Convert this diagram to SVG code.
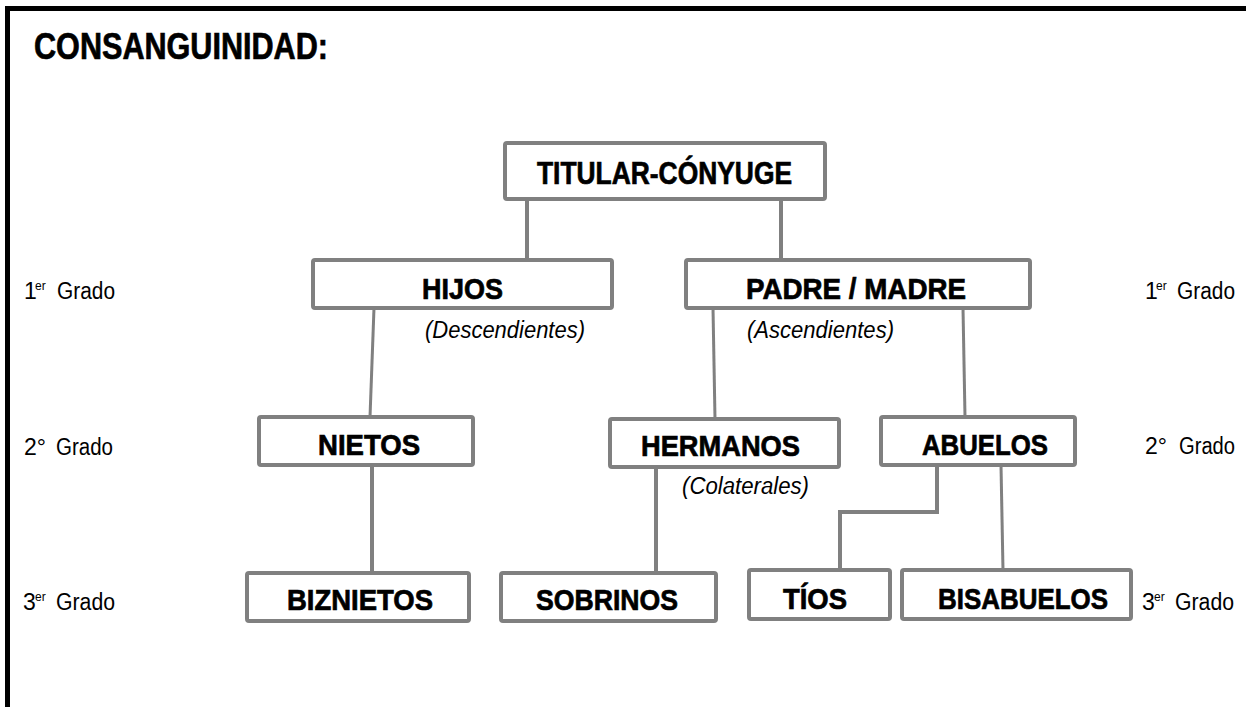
<svg xmlns="http://www.w3.org/2000/svg" width="1246" height="707" viewBox="0 0 1246 707">
<style>
.box{fill:#fff;stroke:#808080;stroke-width:4}
.lbl{font-family:"Liberation Sans Narrow","Liberation Sans",Arial,sans-serif;font-weight:bold;font-size:30px;fill:#000;stroke:#000;stroke-width:0.7}
.it{font-family:"Liberation Sans Narrow","Liberation Sans",Arial,sans-serif;font-style:italic;font-size:23px;fill:#000}
.gr{font-family:"Liberation Sans Narrow","Liberation Sans",Arial,sans-serif;font-size:23px;fill:#000}
.sup{font-size:12px}
.ln{stroke:#808080;stroke-width:4;fill:none}
.ln3{stroke:#808080;stroke-width:3;fill:none}
</style>
<rect width="1246" height="707" fill="#fff"/>
<path d="M7.5,707 V8.5 H1246" fill="none" stroke="#000" stroke-width="5"/>
<text class="lbl" x="34" y="59" style="font-size:37px" textLength="294" lengthAdjust="spacingAndGlyphs">CONSANGUINIDAD:</text>

<g id="connectors">
<line class="ln" x1="527" y1="199" x2="527" y2="260"/>
<line class="ln" x1="781" y1="199" x2="781" y2="260"/>
<line class="ln3" x1="374" y1="308" x2="370" y2="417"/>
<line class="ln3" x1="713" y1="308" x2="715" y2="419"/>
<line class="ln3" x1="963" y1="308" x2="965" y2="417"/>
<line class="ln" x1="372" y1="465" x2="372" y2="573"/>
<line class="ln" x1="656" y1="467" x2="656" y2="573"/>
<polyline class="ln" points="937,465 937,512 840,512 840,570"/>
<line class="ln3" x1="1001" y1="465" x2="1003" y2="570"/>
</g>

<g id="titular">
<rect class="box" x="505" y="143" width="320" height="56" rx="2"/>
<text class="lbl" x="537" y="184" style="font-size:31px" textLength="255" lengthAdjust="spacingAndGlyphs">TITULAR-CÓNYUGE</text>
</g>
<g id="hijos">
<rect class="box" x="313" y="260" width="299" height="48" rx="2"/>
<text class="lbl" x="422" y="299" textLength="81" lengthAdjust="spacingAndGlyphs">HIJOS</text>
</g>
<g id="padre-madre">
<rect class="box" x="686" y="260" width="344" height="48" rx="2"/>
<text class="lbl" x="746" y="299" textLength="220" lengthAdjust="spacingAndGlyphs">PADRE / MADRE</text>
</g>
<g id="nietos">
<rect class="box" x="259" y="417" width="214" height="48" rx="2"/>
<text class="lbl" x="318" y="455" textLength="102" lengthAdjust="spacingAndGlyphs">NIETOS</text>
</g>
<g id="hermanos">
<rect class="box" x="610" y="419" width="229" height="48" rx="2"/>
<text class="lbl" x="641" y="456" textLength="159" lengthAdjust="spacingAndGlyphs">HERMANOS</text>
</g>
<g id="abuelos">
<rect class="box" x="881" y="417" width="194" height="48" rx="2"/>
<text class="lbl" x="922" y="455" textLength="126" lengthAdjust="spacingAndGlyphs">ABUELOS</text>
</g>
<g id="biznietos">
<rect class="box" x="247" y="573" width="222" height="48" rx="2"/>
<text class="lbl" x="287" y="610" textLength="146" lengthAdjust="spacingAndGlyphs">BIZNIETOS</text>
</g>
<g id="sobrinos">
<rect class="box" x="501" y="573" width="215" height="48" rx="2"/>
<text class="lbl" x="536" y="610" textLength="142" lengthAdjust="spacingAndGlyphs">SOBRINOS</text>
</g>
<g id="tios">
<rect class="box" x="749" y="570" width="141" height="49" rx="2"/>
<text class="lbl" x="783" y="609" textLength="64" lengthAdjust="spacingAndGlyphs">TÍOS</text>
</g>
<g id="bisabuelos">
<rect class="box" x="902" y="570" width="229" height="49" rx="2"/>
<text class="lbl" x="938" y="609" textLength="170" lengthAdjust="spacingAndGlyphs">BISABUELOS</text>
</g>

<g id="notes">
<text class="it" x="425" y="338" textLength="160" lengthAdjust="spacingAndGlyphs">(Descendientes)</text>
<text class="it" x="747" y="338" textLength="147" lengthAdjust="spacingAndGlyphs">(Ascendientes)</text>
<text class="it" x="682" y="494" textLength="127" lengthAdjust="spacingAndGlyphs">(Colaterales)</text>
</g>

<g id="grados">
<text class="gr" x="24" y="299">1<tspan class="sup" x="35" dy="-9">er</tspan><tspan x="57" dy="9" textLength="58" lengthAdjust="spacingAndGlyphs">Grado</tspan></text>
<text class="gr" x="24" y="455">2°<tspan x="56" textLength="57" lengthAdjust="spacingAndGlyphs">Grado</tspan></text>
<text class="gr" x="23" y="610">3<tspan class="sup" x="35" dy="-9">er</tspan><tspan x="56" dy="9" textLength="59" lengthAdjust="spacingAndGlyphs">Grado</tspan></text>
<text class="gr" x="1145" y="299">1<tspan class="sup" x="1156" dy="-9">er</tspan><tspan x="1177" dy="9" textLength="58" lengthAdjust="spacingAndGlyphs">Grado</tspan></text>
<text class="gr" x="1145" y="454">2°<tspan x="1179" textLength="56" lengthAdjust="spacingAndGlyphs">Grado</tspan></text>
<text class="gr" x="1142" y="610">3<tspan class="sup" x="1154" dy="-9">er</tspan><tspan x="1175" dy="9" textLength="59" lengthAdjust="spacingAndGlyphs">Grado</tspan></text>
</g>
</svg>
